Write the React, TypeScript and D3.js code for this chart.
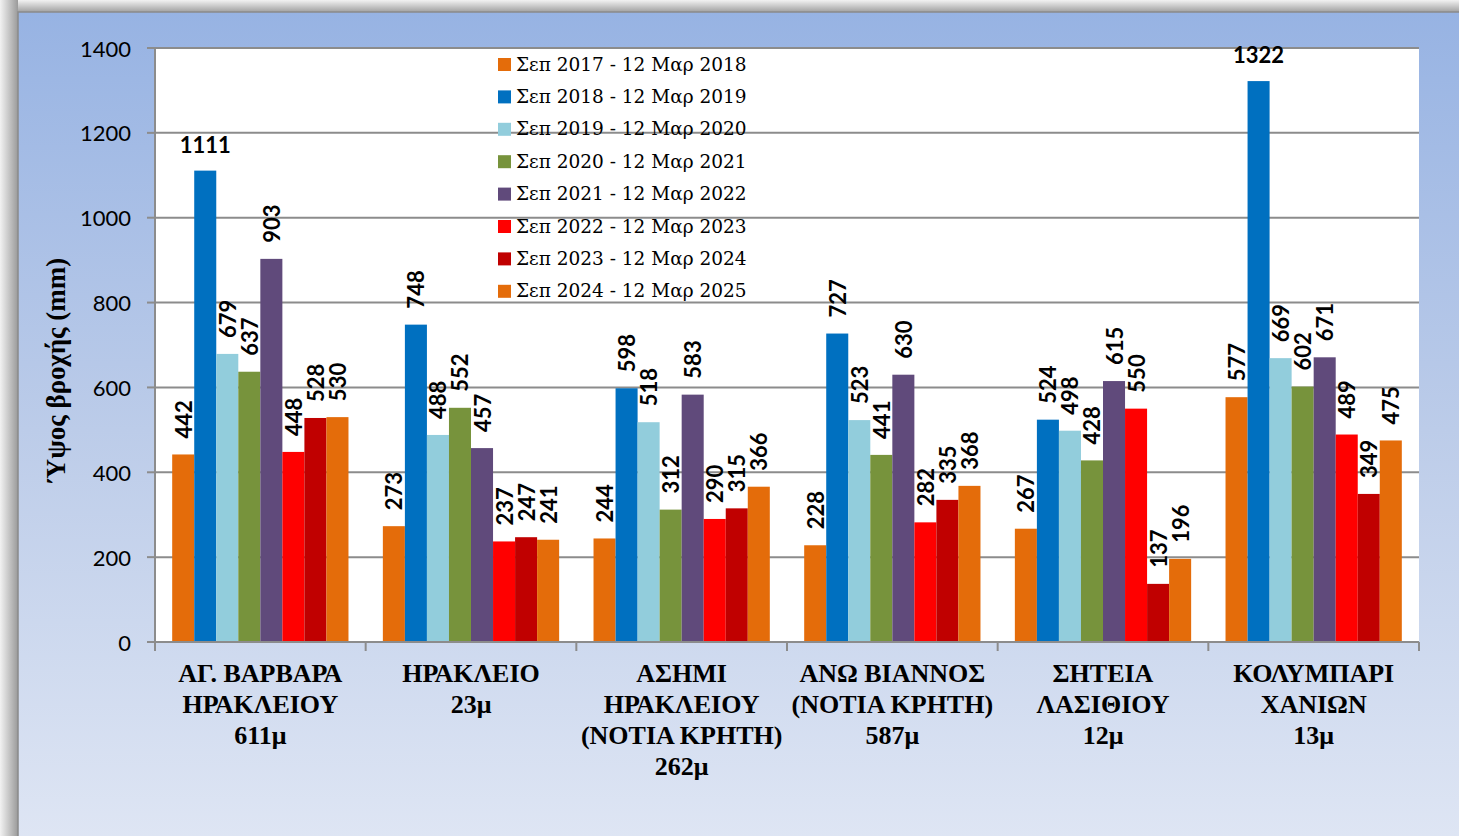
import React from "react";
import * as d3 from "d3";

const stations = [
  ["ΑΓ. ΒΑΡΒΑΡΑ", "ΗΡΑΚΛΕΙΟΥ", "611μ"],
  ["ΗΡΑΚΛΕΙΟ", "23μ"],
  ["ΑΣΗΜΙ", "ΗΡΑΚΛΕΙΟΥ", "(ΝΟΤΙΑ ΚΡΗΤΗ)", "262μ"],
  ["ΑΝΩ ΒΙΑΝΝΟΣ", "(ΝΟΤΙΑ ΚΡΗΤΗ)", "587μ"],
  ["ΣΗΤΕΙΑ", "ΛΑΣΙΘΙΟΥ", "12μ"],
  ["ΚΟΛΥΜΠΑΡΙ", "ΧΑΝΙΩΝ", "13μ"],
];

const seasons = [
  "Σεπ 2017 - 12 Μαρ 2018",
  "Σεπ 2018 - 12 Μαρ 2019",
  "Σεπ 2019 - 12 Μαρ 2020",
  "Σεπ 2020 - 12 Μαρ 2021",
  "Σεπ 2021 - 12 Μαρ 2022",
  "Σεπ 2022 - 12 Μαρ 2023",
  "Σεπ 2023 - 12 Μαρ 2024",
  "Σεπ 2024 - 12 Μαρ 2025",
];

// one row per station, one value per season
const rain = [
  [442, 1111, 679, 637, 903, 448, 528, 530],
  [273, 748, 488, 552, 457, 237, 247, 241],
  [244, 598, 518, 312, 583, 290, 315, 366],
  [228, 727, 523, 441, 630, 282, 335, 368],
  [267, 524, 498, 428, 615, 550, 137, 196],
  [577, 1322, 669, 602, 671, 489, 349, 475],
];

const colors = [
  "#E46C0A",
  "#0070C0",
  "#92CDDC",
  "#77933C",
  "#604A7B",
  "#FF0000",
  "#C00000",
  "#E46C0A",
];

const yTicks = [0, 200, 400, 600, 800, 1000, 1200, 1400];

const W = 1459;
const H = 836;
const plot = { left: 155, right: 1419, top: 48, bottom: 642 };

export default function App() {
  const x0 = d3
    .scaleBand()
    .domain(d3.range(stations.length))
    .range([plot.left, plot.right]);
  const x1 = d3
    .scaleBand()
    .domain(d3.range(seasons.length))
    .range([0, x0.bandwidth()])
    .paddingOuter(0.78);
  const y = d3.scaleLinear().domain([0, 1400]).range([plot.bottom, plot.top]);

  const labelFont = "Lato, 'Open Sans', sans-serif";
  const serif = "'Liberation Serif', 'DejaVu Serif', serif";

  return (
    <svg
      width={W}
      height={H}
      style={{ position: "absolute", left: 0, top: 0, display: "block" }}
    >
      <defs>
        <linearGradient id="panel" x1="0" y1="0" x2="0" y2="1">
          <stop offset="0" stopColor="#97b3e3" />
          <stop offset="0.5" stopColor="#bccce9" />
          <stop offset="1" stopColor="#dfe6f4" />
        </linearGradient>
        <linearGradient id="shadeTop" x1="0" y1="0" x2="0" y2="1">
          <stop offset="0" stopColor="#f2f2f2" />
          <stop offset="1" stopColor="#9a9a9a" />
        </linearGradient>
        <linearGradient id="shadeLeft" x1="0" y1="0" x2="1" y2="0">
          <stop offset="0" stopColor="#f2f2f2" />
          <stop offset="1" stopColor="#9a9a9a" />
        </linearGradient>
      </defs>

      <rect x={0} y={0} width={W} height={H} fill="#ffffff" />
      <rect x={0} y={0} width={W} height={13} fill="url(#shadeTop)" />
      <rect x={0} y={0} width={18} height={H} fill="url(#shadeLeft)" />
      <rect
        x={18}
        y={12}
        width={W}
        height={H}
        fill="url(#panel)"
        stroke="#8a8a8a"
        strokeWidth={1.5}
      />
      <rect
        x={plot.left}
        y={plot.top}
        width={plot.right - plot.left}
        height={plot.bottom - plot.top}
        fill="#ffffff"
      />

      {/* grid + y axis */}
      {yTicks.map((t) => (
        <g key={t}>
          {t > 0 && (
            <line
              x1={plot.left}
              x2={plot.right}
              y1={y(t)}
              y2={y(t)}
              stroke="#8c8c8c"
              strokeWidth={2}
            />
          )}
          <line
            x1={plot.left - 8}
            x2={plot.left}
            y1={y(t)}
            y2={y(t)}
            stroke="#8c8c8c"
            strokeWidth={2}
          />
          <text
            x={131}
            y={y(t)}
            textAnchor="end"
            dominantBaseline="central"
            fontFamily={labelFont}
            fontSize={22}
            fill="#000"
          >
            {t}
          </text>
        </g>
      ))}
      <line
        x1={plot.left}
        x2={plot.left}
        y1={plot.top}
        y2={plot.bottom}
        stroke="#8c8c8c"
        strokeWidth={2}
      />

      {/* legend */}
      {seasons.map((s, i) => (
        <g key={s} transform={`translate(498, ${64 + i * 32.4})`}>
          <rect x={0} y={-6} width={13} height={13} fill={colors[i]} />
          <text
            x={18}
            y={0}
            dominantBaseline="central"
            fontFamily="'DejaVu Serif', serif"
            fontSize={18.5}
            fill="#000"
          >
            {s}
          </text>
        </g>
      ))}

      {/* bars */}
      {rain.map((vals, g) => (
        <g key={g} transform={`translate(${x0(g)}, 0)`}>
          {vals.map((v, i) => (
            <rect
              key={i}
              x={x1(i)}
              y={y(v)}
              width={x1.bandwidth()}
              height={plot.bottom - y(v)}
              fill={colors[i]}
            />
          ))}
          {vals.map((v, i) => {
            const cx = x1(i) + x1.bandwidth() / 2;
            if (v > 1000) {
              return (
                <text
                  key={"l" + i}
                  x={cx}
                  y={y(v) - 18}
                  textAnchor="middle"
                  fontFamily={labelFont}
                  fontWeight="bold"
                  fontSize={22}
                  fill="#000"
                >
                  {v}
                </text>
              );
            }
            return (
              <text
                key={"l" + i}
                transform={`translate(${cx}, ${y(v) - 16}) rotate(-90)`}
                textAnchor="start"
                dominantBaseline="central"
                fontFamily={labelFont}
                fontWeight="bold"
                fontSize={22}
                fill="#000"
              >
                {v}
              </text>
            );
          })}
        </g>
      ))}

      {/* x axis */}
      <line
        x1={plot.left}
        x2={plot.right}
        y1={plot.bottom}
        y2={plot.bottom}
        stroke="#8c8c8c"
        strokeWidth={2}
      />
      {d3.range(stations.length + 1).map((k) => {
        const xx = plot.left + k * x0.step();
        return (
          <line
            key={k}
            x1={xx}
            x2={xx}
            y1={plot.bottom}
            y2={plot.bottom + 9}
            stroke="#8c8c8c"
            strokeWidth={2}
          />
        );
      })}
      {stations.map((lines, g) => (
        <text
          key={g}
          x={x0(g) + x0.bandwidth() / 2}
          y={682}
          textAnchor="middle"
          fontFamily={serif}
          fontWeight="bold"
          fontSize={26}
          fill="#000"
        >
          {lines.map((l, j) => (
            <tspan key={j} x={x0(g) + x0.bandwidth() / 2} dy={j === 0 ? 0 : 31}>
              {l}
            </tspan>
          ))}
        </text>
      ))}

      {/* y title */}
      <text
        transform={`translate(56, ${370}) rotate(-90)`}
        textAnchor="middle"
        dominantBaseline="central"
        fontFamily={serif}
        fontWeight="bold"
        fontSize={27}
        fill="#000"
      >
        Ύψος βροχής (mm)
      </text>
    </svg>
  );
}
